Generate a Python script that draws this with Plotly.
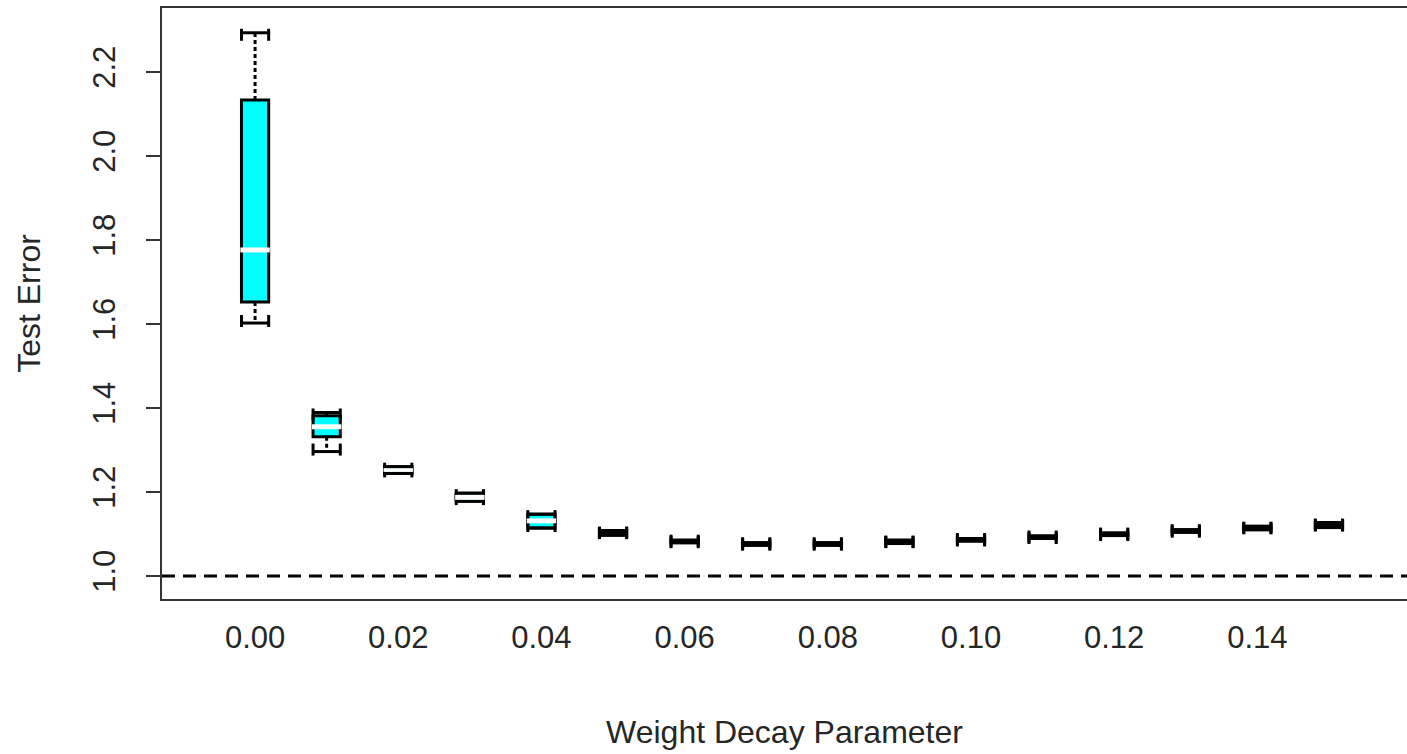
import plotly.graph_objects as go

# ---------------- data ----------------
decay = [0.00, 0.01, 0.02, 0.03, 0.04, 0.05, 0.06, 0.07,
         0.08, 0.09, 0.10, 0.11, 0.12, 0.13, 0.14, 0.15]
lower_whisker = [1.602, 1.296, 1.244, 1.178, 1.114, 1.097, 1.079, 1.073,
                 1.073, 1.077, 1.083, 1.089, 1.096, 1.104, 1.110, 1.115]
q1 = [1.652, 1.331, 1.244, 1.178, 1.114, 1.097, 1.079, 1.073,
      1.073, 1.077, 1.083, 1.089, 1.096, 1.104, 1.110, 1.115]
median = [1.776, 1.355, 1.252, 1.187, 1.131, 1.103, 1.082, 1.076,
          1.076, 1.081, 1.086, 1.092, 1.099, 1.107, 1.114, 1.121]
q3 = [2.133, 1.381, 1.260, 1.197, 1.147, 1.108, 1.085, 1.079,
      1.079, 1.085, 1.089, 1.095, 1.102, 1.110, 1.118, 1.127]
upper_whisker = [2.293, 1.389, 1.260, 1.197, 1.147, 1.108, 1.085, 1.079,
                 1.079, 1.085, 1.089, 1.095, 1.102, 1.110, 1.118, 1.127]
reference_level = 1.0
x_tick_values = [0.00, 0.02, 0.04, 0.06, 0.08, 0.10, 0.12, 0.14]
x_tick_labels = ["0.00", "0.02", "0.04", "0.06", "0.08", "0.10", "0.12", "0.14"]
y_tick_values = [1.0, 1.2, 1.4, 1.6, 1.8, 2.0, 2.2]
y_tick_labels = ["1.0", "1.2", "1.4", "1.6", "1.8", "2.0", "2.2"]

# ---------------- layout constants ----------------
W, H = 1407, 754
M_L, M_R, M_T, M_B = 162, 0, 8, 155
X_RANGE = [-0.013, 0.1609]
Y_RANGE = [0.945, 2.352]
BOX_W = 0.0038                      # box width in x units
FONT = "Liberation Sans, Arial, sans-serif"
INK = "#262626"

plot_h = H - M_T - M_B
y_per_px = (Y_RANGE[1] - Y_RANGE[0]) / plot_h

fig = go.Figure()

# boxes (whiskers handled separately so they can be dotted)
fig.add_trace(go.Box(
    x=decay, q1=q1, median=median, q3=q3,
    lowerfence=q1, upperfence=q3,
    width=BOX_W, whiskerwidth=0,
    fillcolor="#00FFFF",
    line=dict(color="black", width=3),
    boxpoints=False, showlegend=False, hoverinfo="skip",
))

# dotted whiskers
wx, wy = [], []
for x, a, b, c, d in zip(decay, lower_whisker, q1, q3, upper_whisker):
    if d > c:
        wx += [x, x, None]; wy += [c, d, None]
    if a < b:
        wx += [x, x, None]; wy += [b, a, None]
fig.add_trace(go.Scatter(x=wx, y=wy, mode="lines",
                         line=dict(color="black", width=3, dash="4px,3px"),
                         showlegend=False, hoverinfo="skip"))

# staples (caps) with short end ticks
hw = BOX_W / 2
tick_in = 8 * y_per_px
tick_out = 4 * y_per_px
cx, cy = [], []
for x, a, d in zip(decay, lower_whisker, upper_whisker):
    cx += [x - hw, x + hw, None, x - hw, x - hw, None, x + hw, x + hw, None]
    cy += [d, d, None, d + tick_out, d - tick_in, None, d + tick_out, d - tick_in, None]
    cx += [x - hw, x + hw, None, x - hw, x - hw, None, x + hw, x + hw, None]
    cy += [a, a, None, a - tick_out, a + tick_in, None, a - tick_out, a + tick_in, None]
fig.add_trace(go.Scatter(x=cx, y=cy, mode="lines",
                         line=dict(color="black", width=3),
                         showlegend=False, hoverinfo="skip"))

# white median lines where the box is tall enough to show them
mx, my, mw = [], [], []
for x, lo, m, hi in zip(decay, q1, median, q3):
    inner_px = (hi - lo) / y_per_px - 3
    if inner_px > 2.5:
        mx.append(x); my.append(m); mw.append(min(5, inner_px))
fig.add_trace(go.Scatter(x=mx, y=my, mode="markers",
                         marker=dict(symbol="line-ew", size=21,
                                     line=dict(color="white", width=mw)),
                         showlegend=False, hoverinfo="skip"))

# dashed reference line
fig.add_hline(y=reference_level, line=dict(color="black", width=3, dash="13px,8px"))

fig.update_layout(
    width=W, height=H,
    margin=dict(l=M_L, r=M_R, t=M_T, b=M_B, pad=0),
    paper_bgcolor="white", plot_bgcolor="white",
    font=dict(family=FONT, size=31, color=INK),
    showlegend=False,
)
fig.update_xaxes(
    range=X_RANGE, showgrid=False, zeroline=False,
    showline=True, mirror=True, linecolor="#333333", linewidth=2,
    tickvals=x_tick_values, ticktext=x_tick_labels, ticks="",
    ticklabelstandoff=10,
    title=dict(text="Weight Decay Parameter", standoff=66, font=dict(size=32, color=INK)),
)
fig.update_yaxes(
    range=Y_RANGE, showgrid=False, zeroline=False,
    showline=True, mirror=False, linecolor="#333333", linewidth=2,
    tickvals=y_tick_values, ticktext=y_tick_labels,
    ticks="outside", ticklen=14, tickwidth=2, tickcolor="#333333",
    tickangle=-90, ticklabelstandoff=19,
    title=dict(text="Test Error", standoff=36, font=dict(size=32, color=INK)),
)

fig.write_html("out.html",
               config={"displayModeBar": False},
               post_script="document.body.style.margin='0';document.body.style.overflow='hidden';")
